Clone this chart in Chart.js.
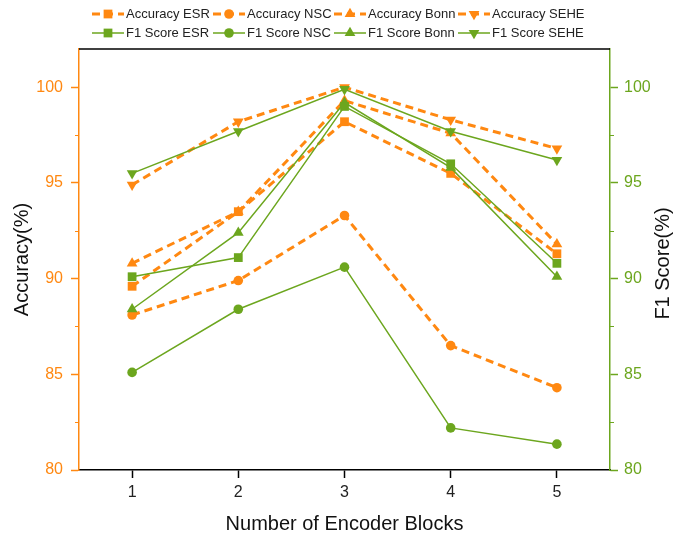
<!DOCTYPE html>
<html>
<head>
<meta charset="utf-8">
<script src="https://cdn.jsdelivr.net/npm/chart.js@4"></script>
<style>
  body { margin: 0; background: #fff; }
  #wrap { width: 673px; height: 541px; }
</style>
</head>
<body>
<div id="wrap"><canvas id="blocksChart" width="673" height="541"></canvas></div>
<script>
// data
const blocks = [1, 2, 3, 4, 5];
const xTicks = [1, 2, 3, 4, 5];
const yTicks = [80, 85, 90, 95, 100];
const yMinorTicks = [82.5, 87.5, 92.5, 97.5];

const accESR  = [89.6, 93.5, 98.2, 95.5, 91.3];
const accNSC  = [88.1, 89.9, 93.3, 86.5, 84.3];
const accBonn = [90.8, 93.5, 99.3, 97.6, 91.8];
const accSEHE = [94.9, 98.2, 100.0, 98.3, 96.8];

const f1ESR  = [90.1, 91.1, 99.0, 96.0, 90.8];
const f1NSC  = [85.1, 88.4, 90.6, 82.2, 81.35];
const f1Bonn = [88.4, 92.4, 99.2, 95.8, 90.1];
const f1SEHE = [95.5, 97.7, 99.9, 97.7, 96.2];

const ORANGE = '#ff8811';
const GREEN = '#6ca61e';
const FONT = "'Liberation Sans', Arial, sans-serif";

function pts(vals) {
    return vals.map((v, i) => ({ x: blocks[i], y: v }));
}

function accSet(label, vals, style, rot) {
    return {
        label: label,
        data: pts(vals),
        yAxisID: 'yAcc',
        borderColor: ORANGE,
        backgroundColor: ORANGE,
        borderWidth: 3,
        borderDash: [8, 5],
        pointStyle: style,
        pointRotation: rot,
        pointRadius: style === 'circle' ? 4.8 : 6.2,
        pointBorderWidth: 0,
        tension: 0,
        order: 2
    };
}

function f1Set(label, vals, style, rot) {
    return {
        label: label,
        data: pts(vals),
        yAxisID: 'yF1',
        borderColor: GREEN,
        backgroundColor: GREEN,
        borderWidth: 1.5,
        pointStyle: style,
        pointRotation: rot,
        pointRadius: style === 'circle' ? 4.8 : 6.2,
        pointBorderWidth: 0,
        tension: 0,
        order: 1
    };
}

// legend drawn as line sample + marker + text, two rows of four
const legendCols = [92, 213, 334, 458];
const legendRows = [14, 33];

const extras = {
    id: 'extras',
    afterDraw(chart) {
        const ctx = chart.ctx;
        const area = chart.chartArea;
        ctx.save();
        // top frame line
        ctx.strokeStyle = '#000';
        ctx.lineWidth = 1.5;
        ctx.beginPath();
        ctx.moveTo(area.left, area.top);
        ctx.lineTo(area.right, area.top);
        ctx.stroke();
        // minor ticks
        [['yAcc', ORANGE, -1], ['yF1', GREEN, 1]].forEach(([id, col, dir]) => {
            const s = chart.scales[id];
            const x0 = dir < 0 ? area.left : area.right;
            ctx.strokeStyle = col;
            ctx.lineWidth = 1;
            yMinorTicks.forEach(v => {
                const y = Math.round(s.getPixelForValue(v)) + 0.5;
                ctx.beginPath();
                ctx.moveTo(x0, y);
                ctx.lineTo(x0 + dir * 4, y);
                ctx.stroke();
            });
        });
        // right axis title, reading bottom to top like the left one
        ctx.save();
        ctx.translate(663, (area.top + area.bottom) / 2 + 4);
        ctx.rotate(-Math.PI / 2);
        ctx.font = '20px ' + FONT;
        ctx.fillStyle = '#111';
        ctx.textAlign = 'center';
        ctx.textBaseline = 'middle';
        ctx.fillText('F1 Score(%)', 0, 0);
        ctx.restore();
        // legend
        ctx.font = '13px ' + FONT;
        ctx.textBaseline = 'middle';
        ctx.textAlign = 'left';
        chart.data.datasets.forEach((ds, i) => {
            const x = legendCols[i % 4];
            const y = legendRows[Math.floor(i / 4)];
            ctx.strokeStyle = ds.borderColor;
            ctx.lineWidth = ds.borderWidth;
            ctx.setLineDash(ds.borderDash || []);
            ctx.beginPath();
            ctx.moveTo(x, y);
            ctx.lineTo(x + 32, y);
            ctx.stroke();
            ctx.setLineDash([]);
            ctx.fillStyle = ds.backgroundColor;
            Chart.helpers.drawPoint(ctx, {
                pointStyle: ds.pointStyle,
                rotation: ds.pointRotation,
                radius: ds.pointRadius,
                borderWidth: 0
            }, x + 16, y);
            ctx.fillStyle = '#222';
            ctx.fillText(ds.label, x + 34, y);
        });
        ctx.restore();
    }
};

const ctx = document.getElementById('blocksChart').getContext('2d');
const blocksChart = new Chart(ctx, {
    type: 'line',
    data: {
        datasets: [
            accSet('Accuracy ESR', accESR, 'rect', 0),
            accSet('Accuracy NSC', accNSC, 'circle', 0),
            accSet('Accuracy Bonn', accBonn, 'triangle', 0),
            accSet('Accuracy SEHE', accSEHE, 'triangle', 180),
            f1Set('F1 Score ESR', f1ESR, 'rect', 0),
            f1Set('F1 Score NSC', f1NSC, 'circle', 0),
            f1Set('F1 Score Bonn', f1Bonn, 'triangle', 0),
            f1Set('F1 Score SEHE', f1SEHE, 'triangle', 180)
        ]
    },
    options: {
        responsive: false,
        animation: false,
        layout: { padding: { top: 49, left: 0, right: 0, bottom: 0 } },
        plugins: {
            legend: { display: false },
            tooltip: { enabled: false }
        },
        scales: {
            x: {
                type: 'linear',
                position: 'bottom',
                min: 0.5,
                max: 5.5,
                afterBuildTicks: s => { s.ticks = xTicks.map(v => ({ value: v })); },
                afterFit: s => { s.height = 71; },
                border: { color: '#000', width: 1.5 },
                grid: { drawOnChartArea: false, tickLength: 8, tickColor: '#000', tickWidth: 1.5 },
                ticks: { color: '#222', font: { family: FONT, size: 16 }, padding: 5 },
                title: {
                    display: true,
                    text: 'Number of Encoder Blocks',
                    color: '#111',
                    font: { family: FONT, size: 20 },
                    padding: { top: 0, bottom: 5 }
                }
            },
            yAcc: {
                type: 'linear',
                position: 'left',
                min: 80,
                max: 102,
                afterBuildTicks: s => { s.ticks = yTicks.map(v => ({ value: v })); },
                afterFit: s => { s.width = 79; },
                border: { color: ORANGE, width: 1.5 },
                grid: { drawOnChartArea: false, tickLength: 8, tickColor: ORANGE, tickWidth: 1.5 },
                ticks: { color: ORANGE, font: { family: FONT, size: 16 }, padding: 8 },
                title: {
                    display: true,
                    text: 'Accuracy(%)',
                    color: '#111',
                    font: { family: FONT, size: 20 },
                    padding: { top: 10, bottom: 0 }
                }
            },
            yF1: {
                type: 'linear',
                position: 'right',
                min: 80,
                max: 102,
                afterBuildTicks: s => { s.ticks = yTicks.map(v => ({ value: v })); },
                afterFit: s => { s.width = 63; },
                border: { color: GREEN, width: 1.5 },
                grid: { drawOnChartArea: false, tickLength: 8, tickColor: GREEN, tickWidth: 1.5 },
                ticks: { color: GREEN, font: { family: FONT, size: 16 }, padding: 6 },
                title: { display: false }
            }
        }
    },
    plugins: [extras]
});
</script>
</body>
</html>
